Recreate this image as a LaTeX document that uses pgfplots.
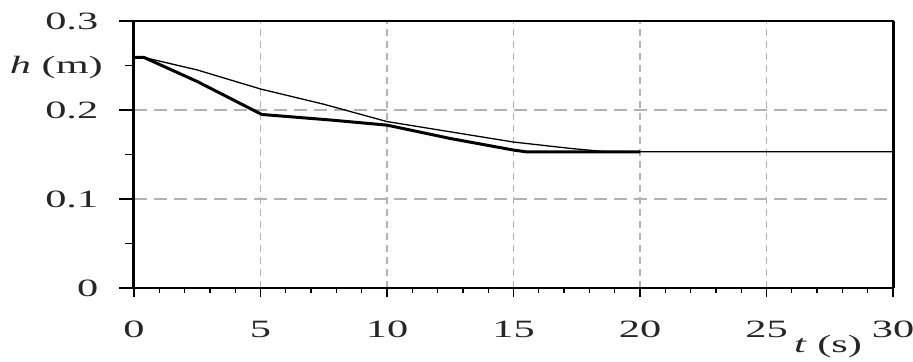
\documentclass[border=0pt]{standalone}
\usepackage{pgfplots}
\pgfplotsset{compat=1.18}
\usepackage{fontspec}
\setmainfont[FakeStretch=1.7]{Liberation Serif}
\begin{document}
\begin{tikzpicture}[x=1bp,y=1bp]
\path[use as bounding box] (-134,-73) rectangle (779,288);
\begin{axis}[
  at={(0,0)}, anchor=south west,
  scale only axis, width=759bp, height=267bp,
  xmin=0, xmax=30, ymin=0, ymax=0.3,
  xtick={0,5,...,30}, ytick={0,0.1,0.2,0.3},
  xticklabels={0,5,10,15,20,25,30},
  yticklabels={0,0.1,0.2,0.3},
  minor x tick num=4, minor y tick num=1,
  tick pos=left, tick align=outside,
  /pgf/number format/assume math mode=true,
  ticklabel style={font=\fontsize{25}{25}\selectfont, text=black!85},
  xtick style={line width=1.3bp, black, /pgfplots/major tick length=9bp, /pgfplots/minor tick length=5bp},
  ytick style={line width=1.3bp, black, /pgfplots/major tick length=15bp, /pgfplots/minor tick length=9bp},
  yticklabel style={xshift=-28bp},
  xticklabel style={yshift=-25bp},
  grid=major,
  x grid style={gray!60, line width=1.4bp, dash pattern=on 7bp off 5bp},
  y grid style={gray!60, line width=1.2bp, dash pattern=on 13bp off 7bp},
  axis line style={line width=2bp, black},
  clip=false,
]
\addplot[black, line width=1.3bp] coordinates {
  (0,0.259) (0.4,0.259) (2.5,0.245) (5,0.2236) (7.5,0.2065) (10,0.187)
  (12.5,0.1755) (15,0.164) (17.2,0.157) (18.5,0.1535) (20,0.153) (30,0.153)
};
\addplot[black, line width=3bp, line join=round] coordinates {
  (0,0.259) (0.4,0.259) (2.5,0.232) (5.05,0.195) (7.75,0.1888) (10,0.183)
  (12.5,0.168) (15,0.155) (15.5,0.153) (20,0.153)
};
\draw[line width=3bp, black] (rel axis cs:0,0) -- (rel axis cs:0,1);
\draw[line width=3bp, black] (rel axis cs:1,0) -- (rel axis cs:1,1);
\node[anchor=east, font=\fontsize{25}{25}\selectfont, text=black!85, inner sep=0pt] at ([xshift=-31bp]axis cs:0,0.248) {\textit{h} (m)};
\node[anchor=center, font=\fontsize{25}{25}\selectfont, text=black!85, inner sep=0pt] at ([xshift=694bp,yshift=-59bp]axis cs:0,0) {\textit{t} (s)};
\end{axis}
\end{tikzpicture}
\end{document}
